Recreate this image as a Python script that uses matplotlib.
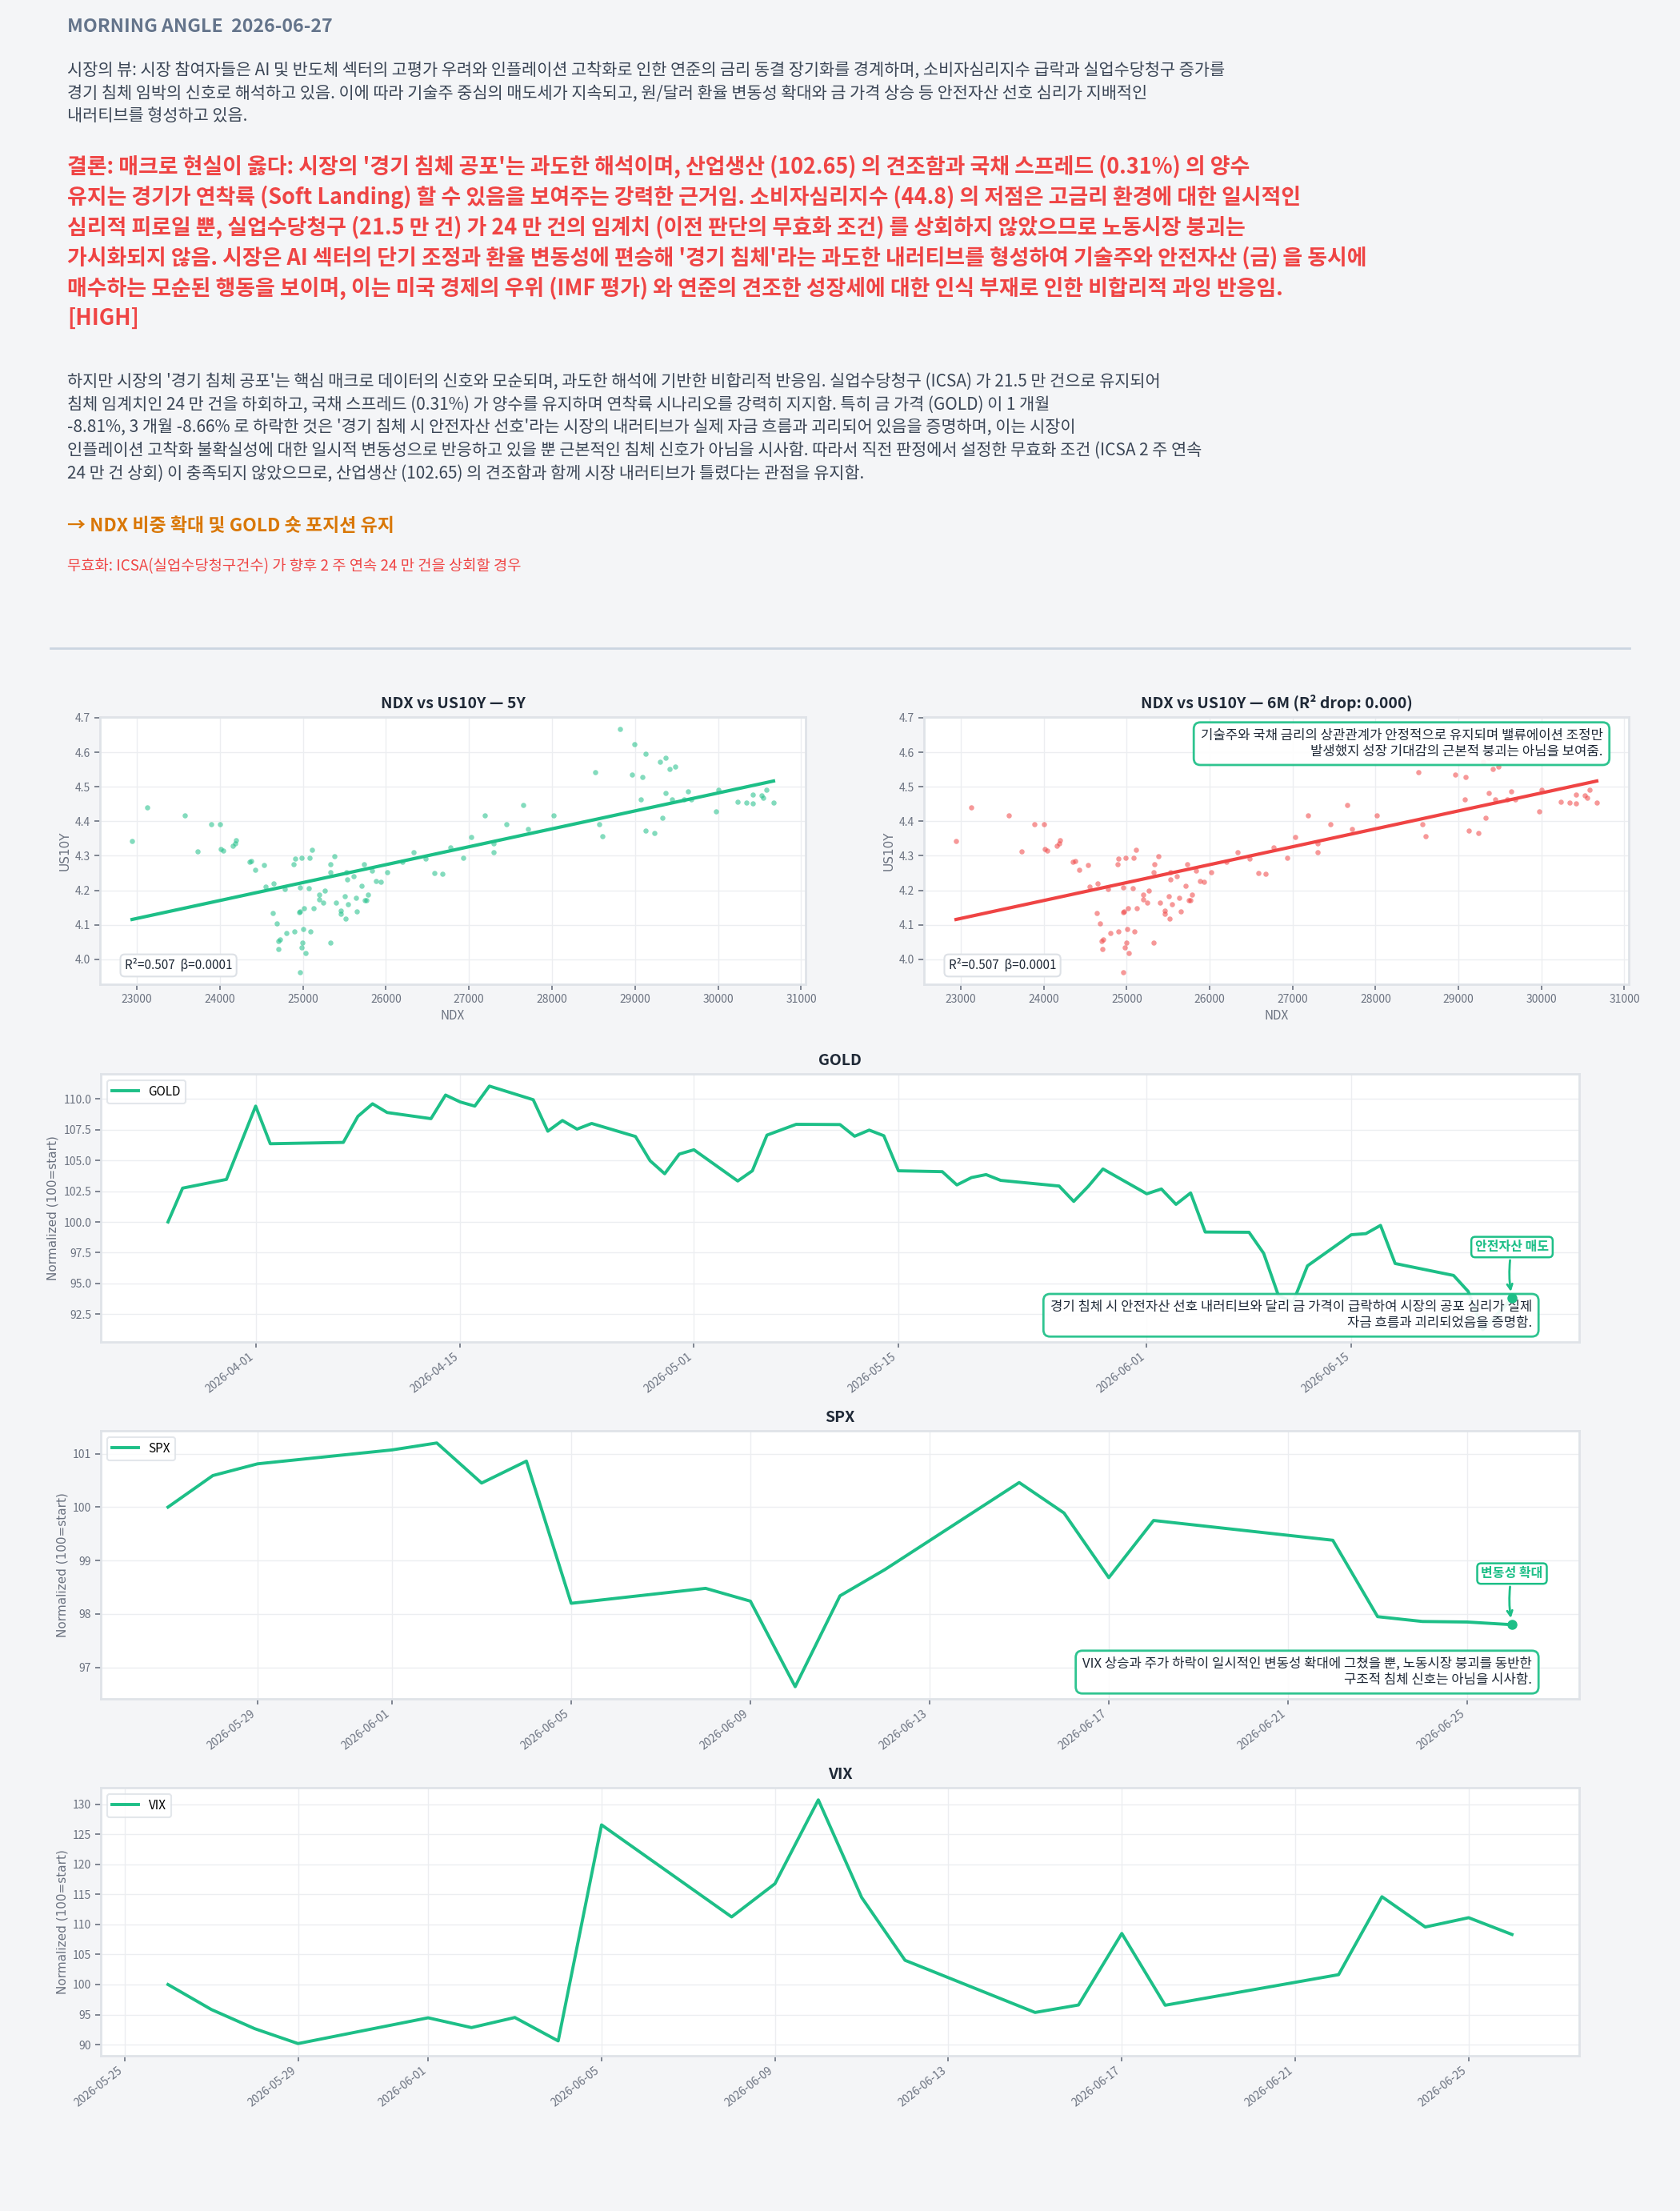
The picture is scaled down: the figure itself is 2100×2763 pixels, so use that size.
import matplotlib
matplotlib.use('Agg')
import matplotlib.pyplot as plt
import matplotlib.dates as mdates
from matplotlib.lines import Line2D
import numpy as np
import pandas as pd

plt.rcParams['font.family'] = ['Noto Sans CJK KR', 'DejaVu Sans']

# ---- colours
BG = '#f4f5f7'
GREEN = '#1dbf87'
RED = '#ef4444'
ORANGE = '#d97706'
DARK = '#1f2937'
TEXT = '#3b4656'
MUTED = '#6b7280'
SPINE = '#dfe3e8'

# ---- text
header = 'MORNING ANGLE  2026-06-27'

view_lines = [
    '시장의 뷰: 시장 참여자들은 AI 및 반도체 섹터의 고평가 우려와 인플레이션 고착화로 인한 연준의 금리 동결 장기화를 경계하며, 소비자심리지수 급락과 실업수당청구 증가를',
    '경기 침체 임박의 신호로 해석하고 있음. 이에 따라 기술주 중심의 매도세가 지속되고, 원/달러 환율 변동성 확대와 금 가격 상승 등 안전자산 선호 심리가 지배적인',
    '내러티브를 형성하고 있음.',
]

concl_lines = [
    "결론: 매크로 현실이 옳다: 시장의 '경기 침체 공포'는 과도한 해석이며, 산업생산 (102.65) 의 견조함과 국채 스프레드 (0.31%) 의 양수",
    "유지는 경기가 연착륙 (Soft Landing) 할 수 있음을 보여주는 강력한 근거임. 소비자심리지수 (44.8) 의 저점은 고금리 환경에 대한 일시적인",
    "심리적 피로일 뿐, 실업수당청구 (21.5 만 건) 가 24 만 건의 임계치 (이전 판단의 무효화 조건) 를 상회하지 않았으므로 노동시장 붕괴는",
    "가시화되지 않음. 시장은 AI 섹터의 단기 조정과 환율 변동성에 편승해 '경기 침체'라는 과도한 내러티브를 형성하여 기술주와 안전자산 (금) 을 동시에",
    "매수하는 모순된 행동을 보이며, 이는 미국 경제의 우위 (IMF 평가) 와 연준의 견조한 성장세에 대한 인식 부재로 인한 비합리적 과잉 반응임.",
    "[HIGH]",
]

body_lines = [
    "하지만 시장의 '경기 침체 공포'는 핵심 매크로 데이터의 신호와 모순되며, 과도한 해석에 기반한 비합리적 반응임. 실업수당청구 (ICSA) 가 21.5 만 건으로 유지되어",
    "침체 임계치인 24 만 건을 하회하고, 국채 스프레드 (0.31%) 가 양수를 유지하며 연착륙 시나리오를 강력히 지지함. 특히 금 가격 (GOLD) 이 1 개월",
    "-8.81%, 3 개월 -8.66% 로 하락한 것은 '경기 침체 시 안전자산 선호'라는 시장의 내러티브가 실제 자금 흐름과 괴리되어 있음을 증명하며, 이는 시장이",
    "인플레이션 고착화 불확실성에 대한 일시적 변동성으로 반응하고 있을 뿐 근본적인 침체 신호가 아님을 시사함. 따라서 직전 판정에서 설정한 무효화 조건 (ICSA 2 주 연속",
    "24 만 건 상회) 이 충족되지 않았으므로, 산업생산 (102.65) 의 견조함과 함께 시장 내러티브가 틀렸다는 관점을 유지함.",
]

action_text = '→ NDX 비중 확대 및 GOLD 숏 포지션 유지'
invalid_text = '무효화: ICSA(실업수당청구건수) 가 향후 2 주 연속 24 만 건을 상회할 경우'

note_6m = ('기술주와 국채 금리의 상관관계가 안정적으로 유지되며 밸류에이션 조정만\n'
           '발생했지 성장 기대감의 근본적 붕괴는 아님을 보여줌.')
note_gold = ('경기 침체 시 안전자산 선호 내러티브와 달리 금 가격이 급락하여 시장의 공포 심리가 실제\n'
             '자금 흐름과 괴리되었음을 증명함.')
note_spx = ('VIX 상승과 주가 하락이 일시적인 변동성 확대에 그쳤을 뿐, 노동시장 붕괴를 동반한\n'
            '구조적 침체 신호는 아님을 시사함.')

# ---- scatter data (NDX vs US10Y)
ndx = [22943, 23126, 23582, 23734, 23892, 23999, 24012, 24044, 24157, 24183,
       24195, 24354, 24379, 24423, 24531, 24550, 24651, 24638, 24683, 24778,
       24803, 24701, 24720, 24708, 24898, 24904, 24891, 24986, 25081, 25113,
       24961, 25075, 24955, 24968, 25018, 25126, 25005, 25094, 24993, 24980,
       25030, 24961, 25201, 25264, 25201, 25245, 25328, 25334, 25378, 25328,
       25397, 25461, 25461, 25505, 25524, 25530, 25543, 25518, 25606, 25638,
       25650, 25707, 25732, 25745, 25765, 25783, 25834, 25885, 25935, 26018,
       26201, 26334, 26479, 26587, 26675, 26776, 26934, 27029, 27187, 27301,
       27301, 27453, 27655, 27712, 28016, 28515, 28566, 28604, 28819, 28964,
       28996, 29072, 29085, 29123, 29129, 29237, 29300, 29325, 29363, 29370,
       29414, 29446, 29484, 29591, 29636, 29680, 29971, 30002, 30230, 30338,
       30414, 30414, 30521, 30547, 30578, 30667]
us10y = [4.342, 4.440, 4.416, 4.312, 4.391, 4.392, 4.320, 4.314, 4.328, 4.335,
         4.344, 4.282, 4.285, 4.259, 4.274, 4.211, 4.221, 4.134, 4.105, 4.203,
         4.076, 4.053, 4.057, 4.030, 4.080, 4.292, 4.275, 4.295, 4.294, 4.318,
         4.209, 4.207, 4.136, 4.138, 4.147, 4.148, 4.088, 4.081, 4.049, 4.034,
         4.018, 3.963, 4.188, 4.198, 4.173, 4.164, 4.253, 4.275, 4.298, 4.049,
         4.165, 4.142, 4.131, 4.184, 4.252, 4.232, 4.160, 4.117, 4.240, 4.179,
         4.138, 4.214, 4.276, 4.172, 4.172, 4.188, 4.257, 4.228, 4.224, 4.252,
         4.282, 4.310, 4.292, 4.251, 4.247, 4.324, 4.295, 4.355, 4.418, 4.337,
         4.311, 4.391, 4.446, 4.378, 4.416, 4.542, 4.392, 4.356, 4.667, 4.536,
         4.623, 4.463, 4.528, 4.372, 4.595, 4.365, 4.572, 4.411, 4.584, 4.482,
         4.552, 4.463, 4.558, 4.463, 4.487, 4.463, 4.429, 4.492, 4.456, 4.454,
         4.452, 4.477, 4.476, 4.469, 4.491, 4.455]
r2_5y = 0.507
beta_5y = 0.0001
r2_drop = 0.000

# ---- normalized series
gold_dates = ['2026-03-26', '2026-03-27', '2026-03-30', '2026-04-01', '2026-04-02',
              '2026-04-07', '2026-04-08', '2026-04-09', '2026-04-10', '2026-04-13',
              '2026-04-14', '2026-04-15', '2026-04-16', '2026-04-17', '2026-04-20',
              '2026-04-21', '2026-04-22', '2026-04-23', '2026-04-24', '2026-04-27',
              '2026-04-28', '2026-04-29', '2026-04-30', '2026-05-01', '2026-05-04',
              '2026-05-05', '2026-05-06', '2026-05-08', '2026-05-11', '2026-05-12',
              '2026-05-13', '2026-05-14', '2026-05-15', '2026-05-18', '2026-05-19',
              '2026-05-20', '2026-05-21', '2026-05-22', '2026-05-26', '2026-05-27',
              '2026-05-28', '2026-05-29', '2026-06-01', '2026-06-02', '2026-06-03',
              '2026-06-04', '2026-06-05', '2026-06-08', '2026-06-09', '2026-06-10',
              '2026-06-11', '2026-06-12', '2026-06-15', '2026-06-16', '2026-06-17',
              '2026-06-18', '2026-06-22', '2026-06-23', '2026-06-24', '2026-06-25',
              '2026-06-26']
gold_vals = [100.0, 102.75, 103.46, 109.42, 106.36,
             106.47, 108.59, 109.61, 108.90, 108.40,
             110.32, 109.76, 109.42, 111.05, 109.94,
             107.38, 108.25, 107.55, 108.01, 106.95,
             104.98, 103.92, 105.52, 105.87, 103.33,
             104.16, 107.06, 107.94, 107.92, 106.97,
             107.47, 107.01, 104.16, 104.09, 103.01,
             103.61, 103.85, 103.38, 102.92, 101.67,
             102.90, 104.31, 102.29, 102.68, 101.43,
             102.36, 99.18, 99.16, 97.45, 94.05,
             93.44, 96.43, 98.96, 99.05, 99.72,
             96.62, 95.65, 94.35, 91.23, 92.50,
             93.80]

spx_dates = ['2026-05-27', '2026-05-28', '2026-05-29', '2026-06-01', '2026-06-02',
             '2026-06-03', '2026-06-04', '2026-06-05', '2026-06-08', '2026-06-09',
             '2026-06-10', '2026-06-11', '2026-06-12', '2026-06-15', '2026-06-16',
             '2026-06-17', '2026-06-18', '2026-06-22', '2026-06-23', '2026-06-24',
             '2026-06-25', '2026-06-26']
spx_vals = [100.0, 100.59, 100.81, 101.07, 101.20,
            100.45, 100.86, 98.20, 98.48, 98.24,
            96.64, 98.34, 98.83, 100.46, 99.89,
            98.68, 99.75, 99.38, 97.95, 97.86,
            97.85, 97.80]

vix_dates = ['2026-05-26', '2026-05-27', '2026-05-28', '2026-05-29', '2026-06-01',
             '2026-06-02', '2026-06-03', '2026-06-04', '2026-06-05', '2026-06-08',
             '2026-06-09', '2026-06-10', '2026-06-11', '2026-06-12', '2026-06-15',
             '2026-06-16', '2026-06-17', '2026-06-18', '2026-06-22', '2026-06-23',
             '2026-06-24', '2026-06-25', '2026-06-26']
vix_vals = [100.0, 95.84, 92.65, 90.17, 94.46,
            92.83, 94.51, 90.61, 126.57, 111.25,
            116.78, 130.73, 114.48, 104.03, 95.35,
            96.59, 108.50, 96.55, 101.64, 114.61,
            109.57, 111.12, 108.33]

# ---- figure
W, H = 2100, 2763
fig = plt.figure(figsize=(W / 100, H / 100), dpi=100, facecolor=BG)


def px_box(x0, y0, x1, y1):
    return [x0 / W, 1 - y1 / H, (x1 - x0) / W, (y1 - y0) / H]


def fx(x):
    return x / W


def fy(y):
    return 1 - y / H


# header text block
fig.text(fx(84), fy(33), header, fontsize=16.75, fontweight='bold', color='#64748b', va='center')
for i, line in enumerate(view_lines):
    fig.text(fx(84), fy(88 + i * 28.5), line, fontsize=15, color=TEXT, va='center')
for i, line in enumerate(concl_lines):
    fig.text(fx(84), fy(208 + i * 38), line, fontsize=19.4, fontweight='bold', color=RED, va='center')
for i, line in enumerate(body_lines):
    fig.text(fx(84), fy(477 + i * 28.7), line, fontsize=15, color=TEXT, va='center')
fig.text(fx(84), fy(658), action_text, fontsize=16.5, fontweight='bold', color=ORANGE, va='center')
fig.text(fx(84), fy(708), invalid_text, fontsize=13.5, color=RED, va='center')

fig.add_artist(Line2D([fx(63), fx(2037)], [fy(810), fy(810)], color='#cbd5e1', lw=2))


def style_axes(ax):
    ax.set_facecolor('white')
    for s in ax.spines.values():
        s.set_color(SPINE)
        s.set_linewidth(2)
    ax.tick_params(colors=MUTED, labelsize=10, length=5, width=1.2)
    ax.grid(True, color='#eceef1', lw=1)
    ax.set_axisbelow(True)


def ann_box(ax, x, y, text, ha, va):
    ax.text(x, y, text, transform=ax.transAxes, ha=ha, va=va, fontsize=12,
            color=DARK, multialignment='right', zorder=6,
            bbox=dict(boxstyle='round,pad=0.5', fc='white', ec=GREEN, lw=2, alpha=0.92))


# ---- scatter panels
coef = np.polyfit(ndx, us10y, 1)
xs = np.array([min(ndx), max(ndx)])
for pos, col, title, note in [
        (px_box(125, 896, 1007, 1230), GREEN, 'NDX vs US10Y — 5Y', None),
        (px_box(1155, 896, 2036, 1230), RED, f'NDX vs US10Y — 6M (R² drop: {r2_drop:.3f})', note_6m)]:
    ax = fig.add_axes(pos)
    style_axes(ax)
    ax.scatter(ndx, us10y, s=22, color=col, alpha=0.55, lw=0)
    ax.plot(xs, np.polyval(coef, xs), color=col, lw=3)
    ax.set_title(title, fontsize=14, fontweight='bold', color=DARK, pad=8)
    ax.set_xlabel('NDX', fontsize=11, color=MUTED)
    ax.set_ylabel('US10Y', fontsize=11, color=MUTED, fontfamily='DejaVu Sans')
    ax.text(0.035, 0.045, f'R²={r2_5y:.3f}  β={beta_5y:.4f}', transform=ax.transAxes,
            fontsize=11, color=DARK, ha='left', va='bottom',
            bbox=dict(boxstyle='round,pad=0.35', fc='white', ec='#dde1e6', lw=1.5))
    if note:
        ann_box(ax, 0.963, 0.955, note, 'right', 'top')


# ---- line panels
def line_panel(pos, name, dates, vals, note=None, tag=None):
    ax = fig.add_axes(pos)
    style_axes(ax)
    d = pd.to_datetime(dates)
    ax.plot(d, vals, color=GREEN, lw=2.8, label=name, zorder=2)
    ax.set_title(name, fontsize=14, fontweight='bold', color=DARK, pad=8)
    ax.set_ylabel('Normalized (100=start)', fontsize=11, color=MUTED, fontfamily='DejaVu Sans')
    leg = ax.legend(loc='upper left', fontsize=11, frameon=True, fancybox=True, handlelength=2.2)
    leg.get_frame().set_edgecolor('#dde1e6')
    leg.get_frame().set_linewidth(1.5)
    ax.xaxis.set_major_formatter(mdates.DateFormatter('%Y-%m-%d'))
    for lab in ax.get_xticklabels():
        lab.set_rotation(38)
        lab.set_ha('right')
    if note:
        ann_box(ax, 0.968, 0.045, note, 'right', 'bottom')
    if tag:
        ax.plot([d[-1]], [vals[-1]], 'o', color=GREEN, ms=8, zorder=7)
        ax.annotate(tag, xy=(d[-1], vals[-1]), xytext=(0, 46), textcoords='offset points',
                    ha='center', va='center', fontsize=11.5, fontweight='bold', color=GREEN, zorder=7,
                    bbox=dict(boxstyle='round,pad=0.3', fc='white', ec=GREEN, lw=1.8),
                    arrowprops=dict(arrowstyle='->', color=GREEN, lw=2,
                                    connectionstyle='arc3,rad=0.1', shrinkB=6))
    return ax


line_panel(px_box(126, 1342, 1974, 1677), 'GOLD', gold_dates, gold_vals, note_gold, '안전자산 매도')
line_panel(px_box(126, 1788, 1974, 2123), 'SPX', spx_dates, spx_vals, note_spx, '변동성 확대')
line_panel(px_box(126, 2234, 1974, 2569), 'VIX', vix_dates, vix_vals)

fig.savefig('out.png', dpi=100, facecolor=BG)
